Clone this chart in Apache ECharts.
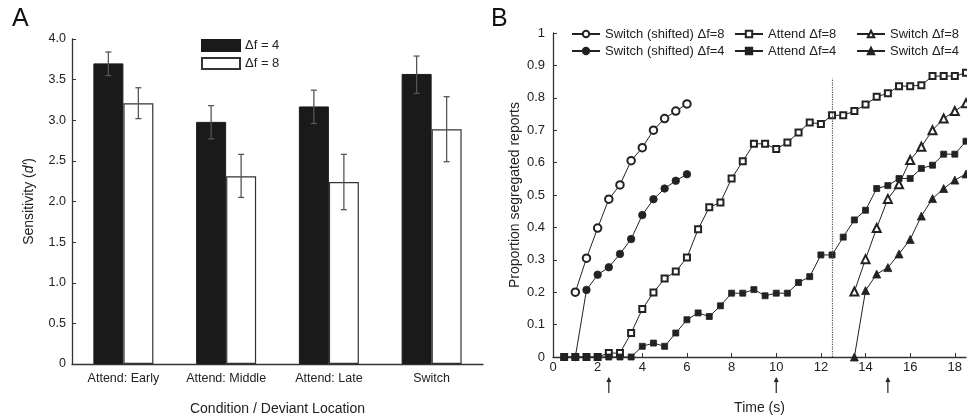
<!DOCTYPE html>
<html>
<head>
<meta charset="utf-8">
<script src="https://cdn.jsdelivr.net/npm/echarts@6/dist/echarts.min.js"></script>
<style>
  html, body { margin: 0; padding: 0; background: #fff; }
  #main { width: 967px; height: 416px; }
</style>
</head>
<body>
<div id="main"></div>
<script>
// ---- panel A: sensitivity bars ----
const conditions = ['Attend: Early', 'Attend: Middle', 'Attend: Late', 'Switch']
const sens4 = [3.70, 2.98, 3.17, 3.57]
const sens4Low = [3.55, 2.77, 2.96, 3.33]
const sens4High = [3.84, 3.18, 3.37, 3.79]
const sens8 = [3.21, 2.31, 2.24, 2.89]
const sens8Low = [3.02, 2.05, 1.90, 2.49]
const sens8High = [3.40, 2.58, 2.58, 3.29]

// ---- panel B: proportion segregated reports over time ----
const timeTicks = [0, 2, 4, 6, 8, 10, 12, 14, 16, 18]
const shiftTime = [1, 1.5, 2, 2.5, 3, 3.5, 4, 4.5, 5, 5.5, 6]
const shift8 = [0.200, 0.305, 0.398, 0.487, 0.531, 0.606, 0.646, 0.700, 0.736, 0.759, 0.781]
const shift4 = [0, 0.207, 0.254, 0.277, 0.318, 0.364, 0.438, 0.487, 0.520, 0.544, 0.564]
const attendTime = [0.5, 1, 1.5, 2, 2.5, 3, 3.5, 4, 4.5, 5, 5.5, 6, 6.5, 7, 7.5, 8, 8.5, 9, 9.5, 10,
  10.5, 11, 11.5, 12, 12.5, 13, 13.5, 14, 14.5, 15, 15.5, 16, 16.5, 17, 17.5, 18, 18.5]
const attend8 = [0, 0, 0, 0, 0.012, 0.012, 0.074, 0.148, 0.199, 0.242, 0.264, 0.307, 0.394, 0.462, 0.477,
  0.551, 0.604, 0.658, 0.658, 0.642, 0.662, 0.693, 0.724, 0.719, 0.746, 0.746, 0.759, 0.779, 0.803,
  0.814, 0.836, 0.836, 0.839, 0.867, 0.867, 0.867, 0.877]
const attend4 = [0, 0, 0, 0, 0, 0, 0, 0.033, 0.043, 0.033, 0.074, 0.115, 0.136, 0.125, 0.158,
  0.197, 0.197, 0.208, 0.189, 0.197, 0.197, 0.230, 0.248, 0.315, 0.315, 0.370, 0.423, 0.453, 0.520,
  0.529, 0.551, 0.551, 0.582, 0.592, 0.626, 0.626, 0.666]
const switchTime = [13.5, 14, 14.5, 15, 15.5, 16, 16.5, 17, 17.5, 18, 18.5]
const switch8 = [0.202, 0.302, 0.398, 0.488, 0.533, 0.608, 0.649, 0.700, 0.736, 0.759, 0.783]
const switch4 = [0, 0.205, 0.256, 0.276, 0.318, 0.363, 0.435, 0.489, 0.520, 0.546, 0.565]
const arrowTimes = [2.5, 10, 15]
const dividerTime = 12.5
const dividerTop = 0.86

const font = 'Liberation Sans, Arial, Helvetica, sans-serif'
const ink = '#222'
const barW = 30

const pair = (xs, ys) => xs.map((x, i) => [x, ys[i]])

// error bars drawn on top of grouped bars, shifted by half a bar
function errorBars(lows, highs, shift) {
     return {
          type: 'custom',
          xAxisIndex: 0,
          yAxisIndex: 0,
          z: 10,
          silent: true,
          data: lows.map((l, i) => [i, l, highs[i]]),
          renderItem(params, api) {
               const lo = api.coord([api.value(0), api.value(1)])
               const hi = api.coord([api.value(0), api.value(2)])
               const x = lo[0] + shift
               const st = { stroke: '#555', lineWidth: 1.3 }
               return {
                    type: 'group',
                    children: [
                         { type: 'line', shape: { x1: x, y1: lo[1], x2: x, y2: hi[1] }, style: st },
                         { type: 'line', shape: { x1: x - 3, y1: lo[1], x2: x + 3, y2: lo[1] }, style: st },
                         { type: 'line', shape: { x1: x - 3, y1: hi[1], x2: x + 3, y2: hi[1] }, style: st }
                    ]
               }
          }
     }
}

function lineSeries(name, data, symbol, size) {
     return {
          name,
          type: 'line',
          xAxisIndex: 1,
          yAxisIndex: 1,
          data,
          symbol,
          symbolSize: size,
          showAllSymbol: true,
          lineStyle: { color: ink, width: 1 },
          itemStyle: { color: ink, borderColor: ink, borderWidth: 0.8 }
     }
}

const legendB = (left, names) => ({
     left,
     top: 22,
     orient: 'vertical',
     selectedMode: false,
     itemWidth: 28,
     itemHeight: 8,
     itemGap: 3,
     data: names,
     textStyle: { fontFamily: font, fontSize: 13, color: ink, lineHeight: 14 }
})

const axisLine = { show: true, onZero: false, lineStyle: { color: '#333', width: 1.3 } }
const axisTick = { show: true, inside: true, length: 4, lineStyle: { color: '#333' } }

const chart = echarts.init(document.getElementById('main'))
const option = {
     animation: false,
     backgroundColor: '#fff',
     textStyle: { fontFamily: font },
     graphic: [
          { type: 'text', left: 12, top: 7, style: { text: 'A', fontFamily: font, fontSize: 25, fill: '#111' } },
          { type: 'text', left: 491, top: 7, style: { text: 'B', fontFamily: font, fontSize: 25, fill: '#111' } }
     ],
     legend: [
          {
               left: 196,
               top: 34,
               orient: 'vertical',
               selectedMode: false,
               icon: 'rect',
               itemWidth: 38,
               itemHeight: 11,
               itemGap: 5,
               data: ['Δf = 4', 'Δf = 8'],
               textStyle: { fontFamily: font, fontSize: 13, color: ink }
          },
          legendB(566, ['Switch (shifted) Δf=8', 'Switch (shifted) Δf=4']),
          legendB(729, ['Attend Δf=8', 'Attend Δf=4']),
          legendB(851, ['Switch Δf=8', 'Switch Δf=4'])
     ],
     grid: [
          { left: 72, right: 484, top: 39, bottom: 52, outerBoundsMode: 'none' },
          { left: 553, right: 1, top: 33, bottom: 59, outerBoundsMode: 'none' }
     ],
     xAxis: [
          {
               gridIndex: 0,
               type: 'category',
               data: conditions,
               axisLine,
               axisTick: { show: false },
               splitLine: { show: false },
               axisLabel: { interval: 0, fontFamily: font, fontSize: 12.5, color: ink, margin: 8 },
               name: 'Condition / Deviant Location',
               nameLocation: 'middle',
               nameGap: 38,
               nameTextStyle: { fontFamily: font, fontSize: 14, color: ink }
          },
          {
               gridIndex: 1,
               type: 'value',
               min: 0,
               max: 18.5,
               axisLine,
               splitLine: { show: false },
               axisTick: { ...axisTick, customValues: timeTicks },
               axisLabel: { fontFamily: font, fontSize: 13, color: ink, margin: 4, customValues: timeTicks },
               name: 'Time (s)',
               nameLocation: 'middle',
               nameGap: 44,
               nameTextStyle: { fontFamily: font, fontSize: 14, color: ink }
          }
     ],
     yAxis: [
          {
               gridIndex: 0,
               type: 'value',
               min: 0,
               max: 4,
               interval: 0.5,
               axisLine,
               axisTick,
               splitLine: { show: false },
               axisLabel: {
                    fontFamily: font, fontSize: 12.5, color: ink, margin: 6,
                    formatter: v => (v === 0 ? '0' : v.toFixed(1))
               },
               name: '{a|Sensitivity (}{b|d\u2032}{a|)}',
               nameLocation: 'middle',
               nameGap: 36,
               nameRotate: 90,
               nameTextStyle: {
                    rich: {
                         a: { fontFamily: font, fontSize: 14, color: ink },
                         b: { fontFamily: font, fontSize: 14, color: ink, fontStyle: 'italic' }
                    }
               }
          },
          {
               gridIndex: 1,
               type: 'value',
               min: 0,
               max: 1,
               interval: 0.1,
               axisLine,
               axisTick,
               splitLine: { show: false },
               axisLabel: { fontFamily: font, fontSize: 13, color: ink, margin: 8 },
               name: 'Proportion segregated reports',
               nameLocation: 'middle',
               nameGap: 31,
               nameRotate: 90,
               nameTextStyle: { fontFamily: font, fontSize: 14, color: ink }
          }
     ],
     series: [
          {
               name: 'Δf = 4',
               type: 'bar',
               xAxisIndex: 0,
               yAxisIndex: 0,
               data: sens4,
               barWidth: barW,
               barGap: '0%',
               itemStyle: { color: '#1a1a1a', borderColor: '#1a1a1a', borderWidth: 1 }
          },
          {
               name: 'Δf = 8',
               type: 'bar',
               xAxisIndex: 0,
               yAxisIndex: 0,
               data: sens8,
               barWidth: barW,
               barGap: '0%',
               itemStyle: { color: '#fff', borderColor: '#333', borderWidth: 1.2 }
          },
          errorBars(sens4Low, sens4High, -barW / 2),
          errorBars(sens8Low, sens8High, barW / 2),
          {
               ...lineSeries('Attend Δf=8', pair(attendTime, attend8), 'emptyRect', 6),
               markLine: {
                    silent: true,
                    symbol: ['none', 'none'],
                    label: { show: false },
                    lineStyle: { type: 'dotted', color: '#555', width: 1.2 },
                    data: [[{ coord: [dividerTime, 0] }, { coord: [dividerTime, dividerTop] }]]
               }
          },
          lineSeries('Switch (shifted) Δf=8', pair(shiftTime, shift8), 'emptyCircle', 7.5),
          lineSeries('Switch Δf=8', pair(switchTime, switch8), 'emptyTriangle', 8),
          lineSeries('Attend Δf=4', pair(attendTime, attend4), 'rect', 6),
          lineSeries('Switch (shifted) Δf=4', pair(shiftTime, shift4), 'circle', 7.5),
          lineSeries('Switch Δf=4', pair(switchTime, switch4), 'triangle', 8),
          {
               type: 'custom',
               xAxisIndex: 1,
               yAxisIndex: 1,
               clip: false,
               silent: true,
               data: arrowTimes.map(t => [t, 0]),
               renderItem(params, api) {
                    const p = api.coord([api.value(0), 0])
                    const x = p[0]
                    const top = p[1] + 20
                    return {
                         type: 'group',
                         children: [
                              { type: 'line', shape: { x1: x, y1: top + 3, x2: x, y2: top + 16 }, style: { stroke: ink, lineWidth: 1.2 } },
                              { type: 'polygon', shape: { points: [[x, top], [x - 2.5, top + 5], [x + 2.5, top + 5]] }, style: { fill: ink } }
                         ]
                    }
               }
          }
     ]
}
chart.setOption(option)
</script>
</body>
</html>
